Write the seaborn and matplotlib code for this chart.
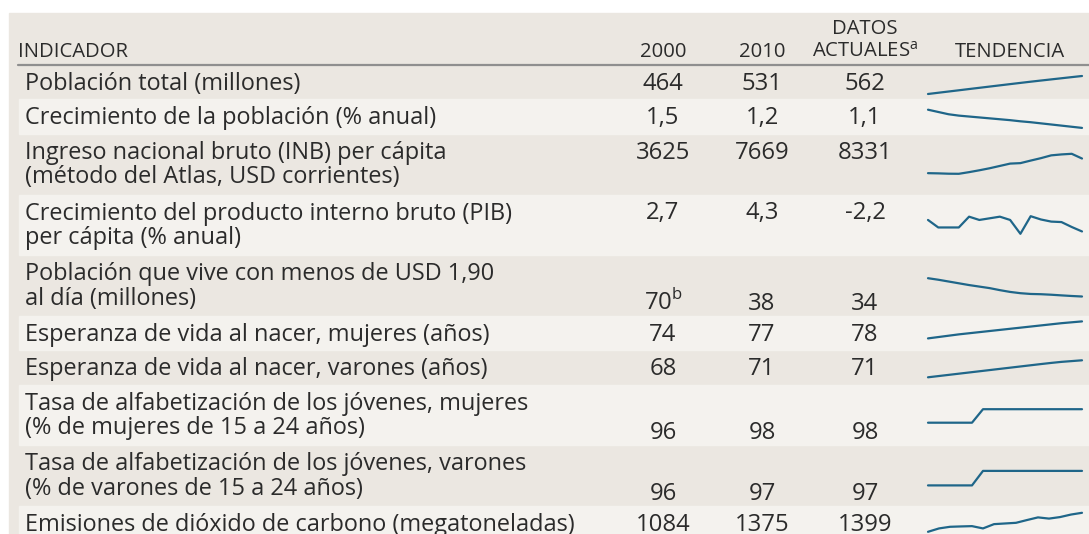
"""Tabla de indicadores con minigráficos de tendencia."""
import matplotlib
matplotlib.use("Agg")
import matplotlib.pyplot as plt
from matplotlib.patches import Rectangle
import seaborn as sns

# --- datos de la tabla ---
indicators = [
    "Población total (millones)",
    "Crecimiento de la población (% anual)",
    "Ingreso nacional bruto (INB) per cápita\n(método del Atlas, USD corrientes)",
    "Crecimiento del producto interno bruto (PIB)\nper cápita (% anual)",
    "Población que vive con menos de USD 1,90\nal día (millones)",
    "Esperanza de vida al nacer, mujeres (años)",
    "Esperanza de vida al nacer, varones (años)",
    "Tasa de alfabetización de los jóvenes, mujeres\n(% de mujeres de 15 a 24 años)",
    "Tasa de alfabetización de los jóvenes, varones\n(% de varones de 15 a 24 años)",
    "Emisiones de dióxido de carbono (megatoneladas)",
]
values_2000 = ["464", "1,5", "3625", "2,7", "70$^{\\mathrm{b}}$", "74", "68", "96", "96", "1084"]
values_2010 = ["531", "1,2", "7669", "4,3", "38", "77", "71", "98", "97", "1375"]
values_actual = ["562", "1,1", "8331", "-2,2", "34", "78", "71", "98", "97", "1399"]
# los valores van en la última línea de la etiqueta en estas filas
values_on_last_line = [False, False, False, False, True, False, False, True, True, False]

# --- series de tendencia ---
years_16 = [2000, 2001, 2002, 2003, 2004, 2005, 2006, 2007,
            2008, 2009, 2010, 2011, 2012, 2013, 2014, 2015]
years_15 = [2000, 2001, 2002, 2003, 2004, 2005, 2006, 2007,
            2008, 2009, 2010, 2011, 2012, 2013, 2014]

trend_population = [464, 470.8, 477.5, 484.2, 491, 497.7, 504.4, 511.1,
                    517.8, 524.4, 531, 537.3, 543.5, 549.7, 555.9, 562]
trend_pop_growth = [1.50, 1.45, 1.40, 1.37, 1.35, 1.33, 1.31, 1.29,
                    1.27, 1.245, 1.225, 1.20, 1.175, 1.15, 1.125, 1.10]
trend_gni = [3625, 3560, 3450, 3420, 3950, 4550, 5200, 5950,
             6700, 6850, 7669, 8450, 9350, 9650, 9850, 8331]
trend_gdp_growth = [2.7, -0.5, -0.5, -0.5, 4.1, 2.7, 3.4, 4.1,
                    2.7, -3.2, 4.3, 2.9, 2.0, 1.8, -0.3, -2.2]
trend_poverty = [70, 67, 63.5, 60, 56.5, 53.5, 50.5, 46.5,
                 43, 40.5, 39, 38.5, 37.5, 36.2, 35, 34]
trend_life_f = [74.2, 74.5, 74.8, 75.1, 75.35, 75.6, 75.85, 76.1,
                76.35, 76.6, 76.85, 77.1, 77.35, 77.6, 77.8, 78.0]
trend_life_m = [68.2, 68.43, 68.66, 68.89, 69.12, 69.35, 69.58, 69.81,
                70.04, 70.27, 70.5, 70.73, 70.95, 71.15, 71.3, 71.45]
trend_literacy_f = [96, 96, 96, 96, 96, 98, 98, 98, 98, 98, 98, 98, 98, 98, 98]
trend_literacy_m = [96, 96, 96, 96, 96, 97, 97, 97, 97, 97, 97, 97, 97, 97, 97]
trend_co2 = [1084, 1140, 1167, 1173, 1178, 1140, 1211, 1222,
             1233, 1279, 1323, 1303, 1328, 1370, 1399]

trends = [
    (years_16, trend_population),
    (years_16, trend_pop_growth),
    (years_16, trend_gni),
    (years_16, trend_gdp_growth),
    (years_16, trend_poverty),
    (years_16, trend_life_f),
    (years_16, trend_life_m),
    (years_15, trend_literacy_f),
    (years_15, trend_literacy_m),
    (years_15, trend_co2),
]

# --- estilo / disposición (en píxeles) ---
W, H = 1089, 534
PANEL = "#ebe7e1"
STRIPE = "#f4f2ee"
TEXT = "#2b2b2b"
LINE = "#1f6689"
LABEL_SIZE = 16.9
NUM_SIZE = 17.2
HEAD_SIZE = 14.6
COL_X = [663, 762, 865]
TREND_X = (928, 1082)
TREND_HEAD_X = 1010
HEADER_BOTTOM = 65
ROW_H = {1: 34.4, 2: 60.7}
# (desplazamiento desde el borde superior de la fila, alto) de cada minigráfico
SPARK_BOX = [(11, 18), (10.3, 18.2), (20, 20), (21.7, 17.6), (23, 18.3),
             (5.5, 17), (10, 17), (24.5, 13.5), (25.5, 14.5), (6.7, 19)]

sns.set_style("white")
plt.rcParams["font.family"] = ["Open Sans", "DejaVu Sans"]
plt.rcParams["mathtext.fontset"] = "custom"
plt.rcParams["mathtext.rm"] = "Open Sans"

fig = plt.figure(figsize=(W / 100, H / 100), dpi=100)
ax = fig.add_axes([0, 0, 1, 1])
ax.set_xlim(0, W)
ax.set_ylim(H, 0)
ax.axis("off")

ax.add_patch(Rectangle((9, 13), W - 9, H - 13, color=PANEL, zorder=0))

# encabezado
head = dict(fontsize=HEAD_SIZE, color=TEXT, va="baseline")
ax.text(18, 57, "INDICADOR", **head)
ax.text(COL_X[0], 57, "2000", ha="center", **head)
ax.text(COL_X[1], 57, "2010", ha="center", **head)
ax.text(COL_X[2], 34, "DATOS", ha="center", **head)
ax.text(COL_X[2], 57, "ACTUALES$^{\\mathrm{a}}$", ha="center", **head)
ax.text(TREND_HEAD_X, 57, "TENDENCIA", ha="center", **head)
ax.axhline(HEADER_BOTTOM, xmin=18 / W, xmax=1, color="#8f8f8f", lw=1.6)

top = HEADER_BOTTOM
for i, label in enumerate(indicators):
    lines = label.split("\n")
    height = ROW_H[len(lines)]
    if i % 2 == 1:
        ax.add_patch(Rectangle((19, top), W - 19, height, color=STRIPE, zorder=0))

    for j, line in enumerate(lines):
        ax.text(25, top + 25 + 24.5 * j, line, fontsize=LABEL_SIZE, color=TEXT, va="baseline")

    base = top + 54.5 if values_on_last_line[i] else top + 25
    for x, val in zip(COL_X, (values_2000[i], values_2010[i], values_actual[i])):
        ax.text(x, base, val, fontsize=NUM_SIZE, color=TEXT, va="baseline", ha="center")

    # minigráfico
    off, h = SPARK_BOX[i]
    years, vals = trends[i]
    sax = fig.add_axes([TREND_X[0] / W, 1 - (top + off + h) / H,
                        (TREND_X[1] - TREND_X[0]) / W, h / H])
    sns.lineplot(x=years, y=vals, ax=sax, color=LINE, linewidth=1.6)
    sax.set_xlim(min(years), max(years))
    sax.set_ylim(min(vals), max(vals))
    sax.axis("off")
    sax.patch.set_alpha(0)
    for ln in sax.lines:
        ln.set_clip_on(False)
        ln.set_solid_capstyle("round")

    top += height

fig.savefig("out.png", dpi=100)
